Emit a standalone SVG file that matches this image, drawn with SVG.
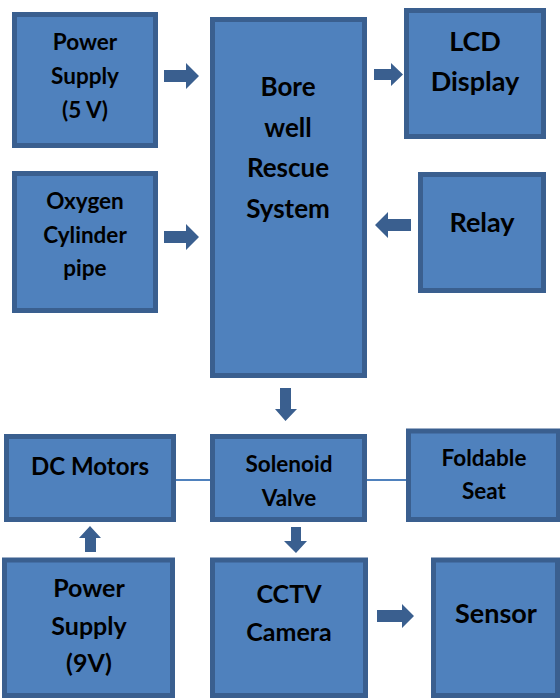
<svg xmlns="http://www.w3.org/2000/svg" width="560" height="698" viewBox="0 0 560 698">
<style>
.box{fill:#4f81bd;stroke:#3a5f8f;stroke-width:5}
.t{font-family:Lato,"Open Sans","Liberation Sans",sans-serif;font-weight:bold;fill:#000;text-anchor:middle}
.s22{font-size:22.5px}.s24{font-size:24px}.s25{font-size:25px}.s26{font-size:26px}.s27{font-size:27px}.s28{font-size:28px}
.arr{fill:#3a5f8f}
.ln{stroke:#4f81bd;stroke-width:2;fill:none}
</style>
<rect width="560" height="698" fill="#fff"/>
<g id="connectors">
<path class="arr" d="M164,70H186V63L199,76L186,89V82H164Z"/>
<path class="arr" d="M164,231H186V224L199,237L186,250V243H164Z"/>
<path class="arr" d="M374,69H391V63L403,74.5L391,86V80H374Z"/>
<path class="arr" d="M411,219H388V212L375,225L388,238V231H411Z"/>
<path class="arr" d="M280,388H291V409H297L285.5,421L275,409H280Z"/>
<path class="arr" d="M291,527H301V541H307L296,553L284,541H291Z"/>
<path class="arr" d="M85,552V538H79L90,526L101,538H96V552Z"/>
<path class="arr" d="M377,610H402V604L414,616L402,628V622H377Z"/>
<line class="ln" x1="176" y1="480" x2="211" y2="480"/>
<line class="ln" x1="367" y1="480" x2="406" y2="480"/>
</g>
<g id="power5v"><rect class="box" x="14.5" y="14.5" width="141" height="131"/>
<text class="t s22" x="85" y="50">Power</text><text class="t s22" x="85" y="84">Supply</text><text class="t s22" x="85" y="118">(5 V)</text></g>
<g id="oxygen"><rect class="box" x="14.5" y="173.5" width="141" height="137"/>
<text class="t s22" x="85" y="209">Oxygen</text><text class="t s22" x="85" y="243">Cylinder</text><text class="t s22" x="85" y="276">pipe</text></g>
<g id="main"><rect class="box" x="212.5" y="19.5" width="152" height="356"/>
<text class="t s26" x="288" y="96">Bore</text><text class="t s26" x="288" y="137">well</text><text class="t s26" x="288" y="177">Rescue</text><text class="t s26" x="288" y="218">System</text></g>
<g id="lcd"><rect class="box" x="406.5" y="10.5" width="137" height="126"/>
<text class="t s27" x="475" y="51">LCD</text><text class="t s27" x="475" y="91">Display</text></g>
<g id="relay"><rect class="box" x="420.5" y="174.5" width="123" height="116"/>
<text class="t s27" x="482" y="232">Relay</text></g>
<g id="dcmotors"><rect class="box" x="6.5" y="436.5" width="167" height="83"/>
<text class="t s24" x="90" y="475">DC Motors</text></g>
<g id="solenoid"><rect class="box" x="212.5" y="436.5" width="152" height="83"/>
<text class="t s22" x="289" y="472">Solenoid</text><text class="t s22" x="289" y="506">Valve</text></g>
<g id="seat"><rect class="box" x="408.5" y="431" width="150" height="88.5"/>
<text class="t s22" x="484" y="466">Foldable</text><text class="t s22" x="484" y="499">Seat</text></g>
<g id="power9v"><rect class="box" x="4.5" y="560" width="168" height="135.5"/>
<text class="t s25" x="89" y="597">Power</text><text class="t s25" x="89" y="635">Supply</text><text class="t s25" x="89" y="672">(9V)</text></g>
<g id="cctv"><rect class="box" x="212.5" y="560" width="153" height="135.5"/>
<text class="t s25" x="289" y="603">CCTV</text><text class="t s25" x="289" y="641">Camera</text></g>
<g id="sensor"><rect class="box" x="433.5" y="560" width="124" height="135.5"/>
<text class="t s27" x="496" y="623">Sensor</text></g>
</svg>
